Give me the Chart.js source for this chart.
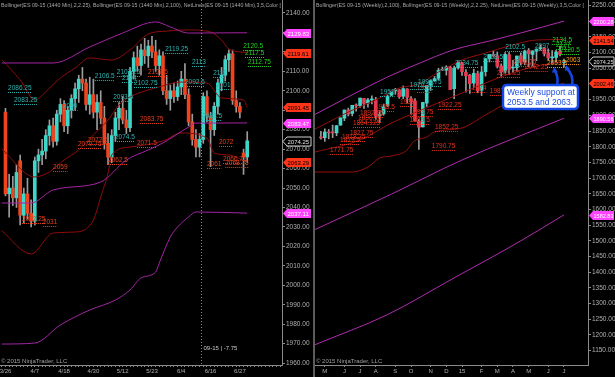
<!DOCTYPE html>
<html><head><meta charset="utf-8">
<script src="https://cdn.jsdelivr.net/npm/chart.js@4.4.0/dist/chart.umd.min.js"></script>
<style>
html,body{margin:0;padding:0;background:#000;overflow:hidden;}
#wrap{position:relative;width:615px;height:377px;background:#000;}
#cA{position:absolute;left:0;top:0;}
#cB{position:absolute;left:313px;top:0;}
</style></head><body>
<div id="wrap"><canvas id="cA" width="313" height="377"></canvas><canvas id="cB" width="302" height="377"></canvas></div>
<script>
// ---------------- LEFT PANEL (daily, 1440 min) ----------------
const leftDates   = ['3/26','4/7','4/18','4/30','5/12','5/23','6/4','6/16','6/27'];
const leftDateIdx = [1,9,17,25,33,41,49,57,65];
const leftPriceTicks = [1960,1970,1980,1990,2000,2010,2020,2030,2040,2050,2060,2070,2080,2090,2100,2110,2120,2130,2140];
const leftOpen  = [2089,2047,2050,2045,2064,2036,2047,2037,2033,2064,2067,2069,2077,2082,2074,2088,2093,2082,2090,2096,2101,2106,2104,2093,2098,2089,2094,2086,2073,2066,2077,2086,2091,2085,2081,2110,2117,2113,2121,2118,2123,2120,2113,2118,2100,2096,2100,2097,2102,2106,2098,2084,2075,2071,2075,2097,2087,2080,2092,2104,2108,2116,2119,2095,2092,2068,2066];
const leftHigh  = [2091,2057,2056,2062,2067,2050,2055,2044,2066,2070,2075,2080,2085,2086,2090,2096,2095,2092,2098,2104,2108,2112,2106,2107,2106,2098,2100,2092,2078,2080,2089,2094,2097,2090,2112,2120,2123,2124,2127,2126,2128,2126,2121,2120,2108,2103,2104,2105,2110,2114,2101,2088,2080,2078,2099,2100,2089,2094,2106,2112,2118,2121,2121,2100,2094,2070,2079];
const leftLow   = [2046,2035,2041,2040,2031,2032,2034,2030,2031,2058,2062,2065,2072,2071,2072,2084,2079,2078,2086,2090,2094,2100,2090,2088,2086,2080,2083,2070,2062,2063,2074,2080,2083,2078,2079,2106,2110,2108,2114,2112,2117,2110,2108,2098,2093,2090,2094,2095,2098,2096,2082,2072,2066,2066,2073,2084,2061,2077,2088,2100,2105,2110,2093,2089,2086,2057,2063];
const leftClose = [2047,2050,2045,2058,2036,2047,2037,2033,2064,2067,2069,2077,2082,2074,2088,2093,2082,2090,2096,2101,2106,2104,2093,2098,2089,2094,2086,2073,2066,2077,2086,2091,2085,2081,2110,2117,2113,2121,2118,2123,2120,2113,2118,2100,2096,2100,2097,2102,2106,2098,2084,2075,2071,2075,2097,2087,2080,2092,2104,2108,2116,2119,2095,2092,2089,2066,2074.25];
// Bollinger(2.25) bands, sampled at bar indexes
const leftBBUpIdx  = [0,5,9,13,16,20,24,30,35,40,45,51,57,60,62,67];
const leftBBUp     = [2116,2105.6,2095.3,2101.4,2106.6,2111.7,2116.9,2115.8,2121,2129.2,2130.7,2131.3,2130.2,2126.1,2121.5,2119.61];
const leftBBMidIdx = [0,9,13,17,21,25,29,32,35,43,49,56,60,66,67];
const leftBBMid    = [2070,2055.7,2058.3,2064.4,2069.6,2077.3,2085,2092.7,2096.8,2102,2104.5,2104,2096.3,2095.3,2091.45];
const leftBBLoIdx  = [0,8,14,20,25,27,29,30,35,44,49,56,58,62,67];
const leftBBLo     = [2028,2016.1,2026.9,2027.4,2033.6,2045.4,2057.7,2067,2071.1,2074.2,2078.3,2075.7,2068,2067,2063.29];
// Bollinger(100) bands
const leftB100UpIdx  = [0,14,24,33,42,46,51,67];
const leftB100Up     = [2114.3,2114.3,2122.5,2129.7,2135.4,2132.8,2129.7,2129.83];
const leftB100MidIdx = [0,8,14,27,34,40,44,51,53,67];
const leftB100Mid    = [2042.3,2042.3,2049,2053.1,2064.4,2069.6,2073.2,2081.4,2083.4,2083.47];
const leftB100LoIdx  = [0,9,16,24,31,35,38,42,43,46,48,51,53,67];
const leftB100Lo     = [1969.8,1970.3,1979.6,1987.3,1992.4,1997.6,2003.8,2006.8,2011.5,2024.8,2030,2035.1,2037.7,2037.11];
// price-line labels (NetLines)
const leftLblText  = ['2086.25','2083.25','2090','2106.5','2107.25','2104','2102.75','2093.5','2074.5','2119.25','2113','2092.5','2111','2101','2083.5',
                      '2107.5','2083.75','2072.5','2070.75','2062.5','2071.5','2059','2031','2032.25','2072','2061','2066.75','2068.75',
                      '2120.5','2117.5','2112.75'];
const leftLblIdx   = [1.7,3.3,16.7,25.4,31.4,32.8,36.1,30.4,30.9,44.6,51.9,50,57.7,58.5,54.7,
                      39.9,37.7,23.5,20.8,29,36.9,14,11.2,5.5,59.3,56,60.4,61,
                      65.9,66.4,67.2];
const leftLblPrice = [2101.4,2095.3,2092.2,2107.6,2109.7,2106.6,2104,2096.8,2076.2,2121.5,2114.8,2104.5,2109.2,2103,2087,
                      2109.7,2085.5,2074.7,2072.6,2064.4,2073.2,2060.8,2032.5,2034.1,2073.7,2062.4,2065,2062.9,
                      2123,2119.4,2114.8];
const leftLblKind  = ['up','up','up','up','up','up','up','up','up','up','up','up','up','up','up',
                      'dn','dn','dn','dn','dn','dn','dn','dn','dn','dn','dn','dn','dn',
                      'hi','hi','hi'];
const leftTagValue = [2129.83,2119.61,2091.45,2083.47,2074.25,2063.29,2037.11];
const leftTagKind  = ['b100','bb','bb','b100','last','bb','b100'];

// ---------------- RIGHT PANEL (weekly) ----------------
const rightMonths   = ['M','J','J','A','S','O','N','D','15','F','M','A','M','J','J'];
const rightMonthIdx = [2,7,11,15,20,24,29,33,37,42,46,50,54,59,63];
const rightPriceTicks = [1150,1200,1250,1300,1350,1400,1450,1500,1550,1600,1650,1700,1750,1800,1850,1900,1950,2000,2050,2100,2150,2200,2250];
const rightOpen  = [1830,1829,1846,1845,1844,1869,1891,1917,1906,1932,1931,1954,1939,1949,1950,1898,1905,1931,1964,1978,1981,1961,1984,1953,1946,1881,1863,1939,1996,2010,2018,2044,2044,2054,1985,2051,2068,2037,2028,2003,2033,1980,2039,2080,2094,2090,2057,2041,2093,2051,2052,2090,2070,2107,2094,2104,2112,2115,2099,2083,2084,2104,2068];
const rightHigh  = [1849,1857,1855,1869,1868,1892,1917,1923,1932,1937,1955,1954,1954,1962,1957,1915,1936,1965,1978,1986,1982,1994,1985,1960,1953,1888,1942,1995,2012,2024,2050,2054,2058,2056,2057,2074,2069,2046,2031,2047,2041,2056,2081,2094,2104,2102,2064,2100,2100,2075,2089,2099,2108,2113,2106,2112,2125,2116,2112,2106,2107,2121,2079];
const rightLow   = [1824,1817,1825,1829,1835,1868,1883,1898,1898,1913,1925,1922,1926,1936,1888,1877,1900,1928,1963,1967,1954,1953,1939,1901,1882,1791,1863,1928,1979,2008,2013,2043,2028,1982,1953,2047,2027,1974,1970,1988,1972,1963,2025,2070,2088,2051,2024,2034,2031,2035,2043,2060,2061,2055,2057,2074,2107,2089,2076,2063,2067,2089,2053.5];
const rightClose = [1828,1847,1844,1844,1867,1892,1917,1904,1932,1930,1955,1938,1949,1949,1897,1903,1927,1961,1976,1982,1959,1985,1957,1943,1882,1862,1941,1995,2010,2017,2043,2047,2054,1982,2050,2069,2039,2026,2001,2034,1978,2038,2080,2094,2089,2056,2038,2094,2047,2053,2089,2069,2105,2096,2105,2111,2116,2097,2083,2085,2102,2093,2074.25];
const rightBBUpIdx  = [-0.5,8,15,21,26,31,37,43,49,56,63];
const rightBBUp     = [1856,1910.6,1949,1987,1999.8,2038,2076.3,2098.6,2121,2140,2141.54];
const rightBBMidIdx = [-0.5,11,19,26,37,43,49,55,63];
const rightBBMid    = [1783,1821.4,1875.6,1913.8,1971.2,2003,2031.7,2054,2072];
const rightBBLoIdx  = [-0.5,9,13,16,19,23,24.5,28,30,37,43,49,55,63];
const rightBBLo     = [1719.4,1719.4,1735.4,1764.1,1770.5,1789.6,1815.1,1831.1,1847,1859.8,1901.2,1942.6,1974.4,2002.46];
const rightB100UpIdx  = [-0.5,8.4,18,26.3,34.7,44,52,63];
const rightB100Up     = [1903,1961.6,2022.2,2066.8,2108.2,2136.9,2162.4,2200.28];
const rightB100MidIdx = [-0.5,19,37,63];
const rightB100Mid    = [1536,1649,1757.6,1890.56];
const rightB100LoIdx  = [-0.5,18,34.7,52,63];
const rightB100Lo     = [1169,1265,1380,1500,1582.83];
const rightLblText  = ['1771.75','1819.5','1818.25','1827.75','1864.125','1880.25','1892.25','1915.5','1931','1893.75','1889.5','1922.25','1852.25','1790.75','1971','1974','1987.5','2021.25','2050.25','2042.25',
                       '2053.5','2063',
                       '1951','1970.25','1996.75','2034.75','2068.5','2102.5','2097',
                       '2134.5','2127','2120.5'];
const rightLblIdx   = [3.3,5.9,6.4,8.4,9.2,10.5,11,14.8,21.2,23.7,23.7,30.9,30.1,29.3,25.5,39.5,44.1,45.9,50,53,
                       58.7,63.5,
                       16.1,23.7,25.8,35.2,42.4,48,55.6,
                       60,61,62];
const rightLblPrice = [1789.5,1821.4,1831,1843.7,1875.6,1891.5,1907.4,1926.5,1942.5,1910.6,1885.1,1932.9,1862.8,1802.3,1987.1,1987.1,1977.5,2034.9,2069,2053,
                       2066.8,2076.3,
                       1974.4,1996.7,2006.2,2066.8,2085.9,2117.7,2120.8,
                       2140,2124.1,2108.2];
const rightLblKind  = ['dn','dn','dn','dn','dn','dn','dn','dn','dn','dn','dn','dn','dn','dn','dn','dn','dn','dn','dn','dn',
                       'sup','sup',
                       'up','up','up','up','up','up','up',
                       'hi','hi','hi'];
const rightTagValue = [2200.28,2141.54,2074.25,2002.46,1890.56,1582.83];
const rightTagKind  = ['b100','bb','last','bb','b100','b100'];

// ---------------- styling / helpers ----------------
const FONT = '"Liberation Sans", Arial, sans-serif';
Chart.defaults.font.family = FONT;
const tagStyle = { b100:{fill:'#ff44ff', text:'#ffffff'}, bb:{fill:'#ff3418', text:'#000000'}, last:{fill:'#000000', text:'#e0e0e0', stroke:'#d0d0d0'} };

function lineDs(idx, vals, color){
  return {type:'line', data: idx.map((x,k)=>({x:x, y:vals[k]})), borderColor:color, borderWidth:1,
          pointRadius:0, fill:false, cubicInterpolationMode:'monotone', order:0};
}
function candleDs(open, high, low, close, upC, dnC){
  return [
    {type:'bar', data: low.map((l,k)=>({x:k+1, y:[l, high[k]]})), backgroundColor:'#9c9c9c',
     barThickness:1, grouped:false, order:3, minBarLength:1, borderWidth:0},
    {type:'bar', data: open.map((o,k)=>({x:k+1, y:[o, close[k]]})),
     backgroundColor: c => (c.raw && c.raw.y[1] >= c.raw.y[0]) ? upC : dnC,
     barThickness:3, grouped:false, order:2, minBarLength:1, borderWidth:0}
  ];
}
function makeOverlay(p){
  return {
    id:'ov_'+p.name,
    beforeDraw(chart){ const c=chart.ctx; c.save(); c.fillStyle='#000'; c.fillRect(0,0,chart.width,chart.height); c.restore(); },
    afterDatasetsDraw(chart){
      const c=chart.ctx, a=chart.chartArea, xs=chart.scales.x, ys=chart.scales.y;
      c.save();
      c.beginPath(); c.rect(a.left,a.top,a.right-a.left,a.bottom-a.top); c.clip();
      c.font = '6.5px '+FONT; c.textBaseline='middle'; c.textAlign='left';
      p.lblText.forEach((t,k)=>{
        const px = xs.getPixelForValue(p.lblIdx[k]), py = ys.getPixelForValue(p.lblPrice[k]);
        const col = p.lblColors[p.lblKind[k]];
        c.fillStyle = col; c.fillText(t, px, py);
        const w = c.measureText(t).width;
        c.strokeStyle = col; c.lineWidth=1; c.setLineDash([1,1]);
        c.beginPath(); c.moveTo(px, Math.round(py)+4.5); c.lineTo(px+w, Math.round(py)+4.5); c.stroke();
      });
      c.restore();
    },
    afterDraw(chart){
      const c=chart.ctx, a=chart.chartArea, ys=chart.scales.y, xs=chart.scales.x;
      c.save();
      if (p.vline !== undefined){
        const vx = Math.round(xs.getPixelForValue(p.vline))+0.5;
        c.strokeStyle='#8a8a8a'; c.setLineDash([1,2]); c.lineWidth=1;
        c.beginPath(); c.moveTo(vx,0); c.lineTo(vx,a.bottom); c.stroke(); c.setLineDash([]);
        c.font='6px '+FONT; c.fillStyle='#c8c8c8'; c.textBaseline='middle';
        c.fillText(p.vlineText, vx+2, 348);
      }
      if (p.sep){ c.fillStyle='#5c5c5c'; c.fillRect(0,0,2,chart.height); }
      // header
      c.font='6px '+FONT; c.fillStyle='#a8a8a8'; c.textBaseline='middle'; c.textAlign='left';
      c.fillText(p.header, a.left+1, 5, p.headerW);
      // copyright
      c.fillStyle='#a0a0a0'; c.fillText('\u00A9 2015 NinjaTrader, LLC', a.left+1, 361);
      // axis tags
      c.font='6px '+FONT;
      p.tagValue.forEach((v,k)=>{
        const st = tagStyle[p.tagKind[k]];
        const ty = Math.round(ys.getPixelForValue(v))+0.5, x0 = a.right+1, h=9, w=Math.min(28, chart.width-x0-1);
        c.beginPath(); c.moveTo(x0,ty); c.lineTo(x0+4,ty-h/2); c.lineTo(x0+w,ty-h/2); c.lineTo(x0+w,ty+h/2); c.lineTo(x0+4,ty+h/2); c.closePath();
        c.fillStyle=st.fill; c.fill();
        if (st.stroke){ c.strokeStyle=st.stroke; c.lineWidth=1; c.stroke(); }
        c.fillStyle=st.text; c.fillText(v.toFixed(2), x0+4.5, ty+0.5, w-5);
      });
      if (p.note){
        // callout box
        const bx=190, by=85, bw=75, bh=24, r=4;
        c.beginPath();
        c.moveTo(bx+r,by); c.lineTo(bx+bw-r,by); c.quadraticCurveTo(bx+bw,by,bx+bw,by+r);
        c.lineTo(bx+bw,by+bh-r); c.quadraticCurveTo(bx+bw,by+bh,bx+bw-r,by+bh);
        c.lineTo(bx+r,by+bh); c.quadraticCurveTo(bx,by+bh,bx,by+bh-r);
        c.lineTo(bx,by+r); c.quadraticCurveTo(bx,by,bx+r,by); c.closePath();
        c.fillStyle='#ffffff'; c.fill(); c.strokeStyle='#1448e6'; c.lineWidth=2.5; c.stroke();
        c.fillStyle='#1a4ee0'; c.font='8.5px '+FONT; c.textBaseline='middle';
        c.fillText(p.note[0], bx+4, by+7.5, bw-6);
        c.fillText(p.note[1], bx+4, by+17.5, bw-6);
        // arrows
        const arrows=[[244,86,241,67],[259,86,253,65]];
        c.strokeStyle='#1448e6'; c.fillStyle='#1448e6'; c.lineWidth=2.5;
        arrows.forEach(ar=>{
          const [x1,y1,x2,y2]=ar; const ang=Math.atan2(y2-y1,x2-x1);
          c.beginPath(); c.moveTo(x1,y1); c.quadraticCurveTo(x1+2,(y1+y2)/2,x2+2*Math.cos(ang+Math.PI),y2+3); c.stroke();
          c.beginPath(); c.moveTo(x2,y2);
          c.lineTo(x2-6*Math.cos(ang-0.5), y2-6*Math.sin(ang-0.5));
          c.lineTo(x2-6*Math.cos(ang+0.5), y2-6*Math.sin(ang+0.5)); c.closePath(); c.fill();
        });
      }
      c.restore();
    }
  };
}
function baseOptions(o){
  return {
    responsive:false, animation:false, events:[],
    layout:{padding:{left:o.padLeft, right:0, top:0, bottom:0}},
    plugins:{legend:{display:false}, tooltip:{enabled:false}},
    scales:{
      x:{ type:'linear', min:o.xmin, max:o.xmax, offset:false,
          afterBuildTicks: s => { s.ticks = o.xTicks.map(v=>({value:v})); },
          ticks:{ autoSkip:false, maxRotation:0, minRotation:0, color:'#b0b0b0', font:{size:6}, padding:1,
                  callback: v => { const k=o.xLabIdx.indexOf(v); return k>=0 ? o.xLab[k] : ''; } },
          grid:{ display:true, drawOnChartArea:false, drawTicks:true, tickLength:2, color:'#8a8a8a', offset:false },
          border:{ display:true, color:'#8a8a8a' },
          afterFit: s => { s.height = 12; s.paddingLeft=0; s.paddingRight=0; } },
      y:{ type:'linear', position:'right', min:o.ymin, max:o.ymax,
          afterBuildTicks: s => { s.ticks = o.yTicks.map(v=>({value:v})); },
          ticks:{ autoSkip:false, color:'#b0b0b0', font:{size:6.5}, padding:1, callback: v => Number(v).toFixed(2) },
          grid:{ display:true, drawOnChartArea:false, drawTicks:true, tickLength:3, color:'#8a8a8a' },
          border:{ display:true, color:'#8a8a8a' },
          afterFit: s => { s.width = o.yWidth; s.paddingTop=0; s.paddingBottom=0; } }
    }
  };
}

// ---------------- LEFT CHART ----------------
const leftTickMarks = Array.from({length:77},(_,k)=>k);
new Chart(document.getElementById('cA'), {
  type:'bar',
  data:{datasets:[
    lineDs(leftB100UpIdx, leftB100Up, '#a424a4'),
    lineDs(leftB100MidIdx, leftB100Mid, '#a424a4'),
    lineDs(leftB100LoIdx, leftB100Lo, '#a424a4'),
    lineDs(leftBBUpIdx, leftBBUp, '#8e0c0c'),
    lineDs(leftBBMidIdx, leftBBMid, '#8e0c0c'),
    lineDs(leftBBLoIdx, leftBBLo, '#8e0c0c'),
    ...candleDs(leftOpen, leftHigh, leftLow, leftClose, '#3ed6c8', '#f0441f')
  ]},
  options: baseOptions({padLeft:0, xmin:-0.5, xmax:76.5, xTicks:leftTickMarks, xLabIdx:leftDateIdx, xLab:leftDates,
                        ymin:1959.02, ymax:2146.68, yTicks:leftPriceTicks, yWidth:31}),
  plugins:[makeOverlay({name:'L',
    header:'Bollinger(ES 09-15 (1440 Min),2,2.25), Bollinger(ES 09-15 (1440 Min),2,100), NetLines(ES 09-15 (1440 Min),3,5,Color [',
    headerW:280, lblText:leftLblText, lblIdx:leftLblIdx, lblPrice:leftLblPrice, lblKind:leftLblKind,
    lblColors:{up:'#2cb6b2', dn:'#e8401c', hi:'#20d020', sup:'#ff9c1c'},
    tagValue:leftTagValue, tagKind:leftTagKind, vline:54.3, vlineText:'09-15 | -7.75'})]
});

// ---------------- RIGHT CHART ----------------
new Chart(document.getElementById('cB'), {
  type:'bar',
  data:{datasets:[
    lineDs(rightB100UpIdx, rightB100Up, '#b02cb0'),
    lineDs(rightB100MidIdx, rightB100Mid, '#b02cb0'),
    lineDs(rightB100LoIdx, rightB100Lo, '#b02cb0'),
    lineDs(rightBBUpIdx, rightBBUp, '#960e0e'),
    lineDs(rightBBMidIdx, rightBBMid, '#960e0e'),
    lineDs(rightBBLoIdx, rightBBLo, '#960e0e'),
    ...candleDs(rightOpen, rightHigh, rightLow, rightClose, '#3ed6c8', '#e63a52')
  ]},
  options: baseOptions({padLeft:2, xmin:-0.5, xmax:69.14, xTicks:rightMonthIdx, xLabIdx:rightMonthIdx, xLab:rightMonths,
                        ymin:1104.4, ymax:2267.5, yTicks:rightPriceTicks, yWidth:27}),
  plugins:[makeOverlay({name:'R',
    header:'Bollinger(ES 09-15 (Weekly),2,100), Bollinger(ES 09-15 (Weekly),2,2.25), NetLines(ES 09-15 (Weekly),3,5,Color [',
    headerW:268, lblText:rightLblText, lblIdx:rightLblIdx, lblPrice:rightLblPrice, lblKind:rightLblKind,
    lblColors:{up:'#2cb6b2', dn:'#e8301c', hi:'#20d020', sup:'#ff9c1c'},
    tagValue:rightTagValue, tagKind:rightTagKind, sep:true,
    note:['Weekly support at','2053.5 and 2063.']})]
});
</script>
</body></html>
